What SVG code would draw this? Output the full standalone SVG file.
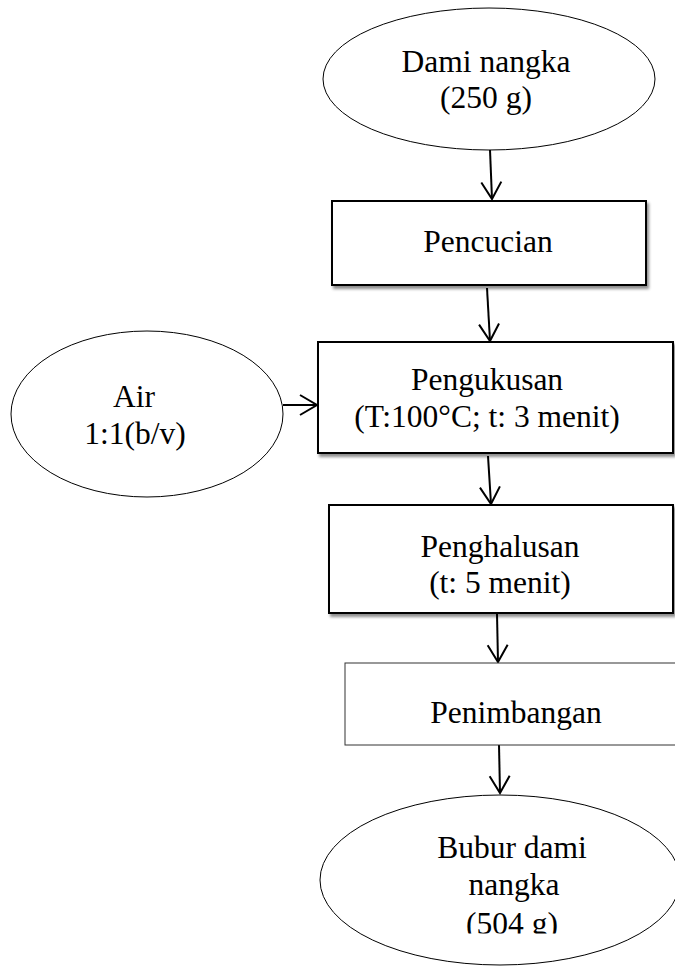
<svg xmlns="http://www.w3.org/2000/svg" width="675" height="967" viewBox="0 0 675 967">
<style>
text{font-family:"Liberation Serif","Times New Roman",serif;font-size:31.5px;fill:#000;text-anchor:middle}
.ell{fill:#fff;stroke:#000;stroke-width:1}
.box{fill:#fff;stroke:#000;stroke-width:2;filter:url(#sh)}
.thin{fill:#fff;stroke:#333;stroke-width:1}
.arr{fill:none;stroke:#000;stroke-width:2;marker-end:url(#ah)}
</style>
<defs>
<filter id="sh" x="-10%" y="-10%" width="130%" height="140%">
<feDropShadow dx="2" dy="3" stdDeviation="1.5" flood-color="#000" flood-opacity="0.45"/>
</filter>
<marker id="ah" markerUnits="userSpaceOnUse" orient="auto" refX="0" refY="0" markerWidth="30" markerHeight="30" overflow="visible">
<path d="M-17,-10 L0,0 L-17,10" fill="none" stroke="#000" stroke-width="2"/>
</marker>
<clipPath id="clipB"><rect x="300" y="790" width="375" height="143.5"/></clipPath>
</defs>
<rect width="675" height="967" fill="#fff"/>
<g id="connectors">
<line class="arr" x1="490" y1="150" x2="492" y2="199"/>
<line class="arr" x1="487" y1="288" x2="490" y2="341"/>
<line class="arr" x1="283" y1="405" x2="317" y2="405"/>
<line class="arr" x1="488" y1="456" x2="491" y2="504"/>
<line class="arr" x1="497" y1="614" x2="498" y2="662"/>
<line class="arr" x1="499" y1="745" x2="500" y2="793"/>
</g>
<g id="dami-nangka">
<ellipse class="ell" cx="489" cy="79" rx="166" ry="71"/>
<text x="486" y="72">Dami nangka</text>
<text x="486" y="108">(250 g)</text>
</g>
<g id="pencucian">
<rect class="box" x="332" y="201" width="314" height="84"/>
<text x="488" y="252">Pencucian</text>
</g>
<g id="air">
<ellipse class="ell" cx="147" cy="414" rx="136" ry="83"/>
<text x="134" y="407">Air</text>
<text x="135" y="444">1:1(b/v)</text>
</g>
<g id="pengukusan">
<rect class="box" x="318" y="342" width="355" height="111"/>
<text x="487" y="390">Pengukusan</text>
<text x="487" y="427">(T:100°C; t: 3 menit)</text>
</g>
<g id="penghalusan">
<rect class="box" x="329" y="505" width="344" height="108"/>
<text x="500" y="557">Penghalusan</text>
<text x="500" y="593">(t: 5 menit)</text>
</g>
<g id="penimbangan">
<rect class="thin" x="345" y="663" width="340" height="82"/>
<text x="516" y="723">Penimbangan</text>
</g>
<g id="bubur-dami-nangka">
<ellipse class="ell" cx="500" cy="880" rx="180" ry="85"/>
<text x="512" y="858">Bubur dami</text>
<text x="514" y="895">nangka</text>
<text x="512" y="934" clip-path="url(#clipB)">(504 g)</text>
</g>
</svg>
